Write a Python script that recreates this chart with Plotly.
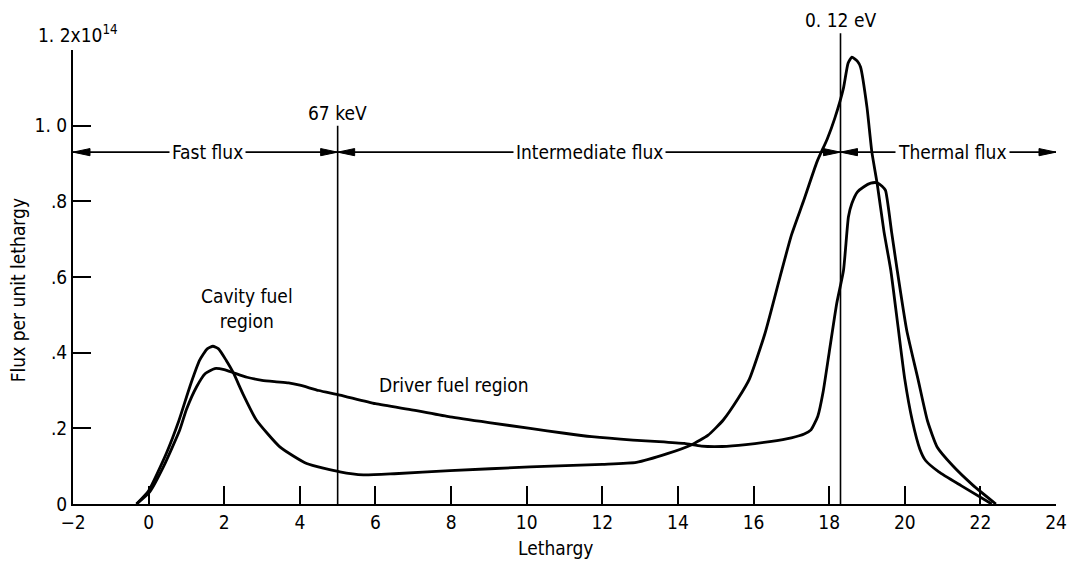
import plotly.graph_objects as go

# Flux per unit lethargy (units of 1e14) versus lethargy for the two fuel regions
cavity_u = [-0.32, 0.0, 0.47, 0.8, 1.09, 1.35, 1.55, 1.70, 1.85, 2.05, 2.24, 2.5, 2.85,
            3.47, 4.18, 5.06, 5.68, 6.5, 7.97, 10.09, 12.0, 12.9, 13.72, 14.35, 14.8,
            15.2, 15.6, 15.89, 16.3, 16.7, 17.0, 17.32, 17.68, 17.95, 18.15, 18.38,
            18.5, 18.6, 18.75, 18.83, 19.0, 19.13, 19.27, 19.45, 19.63, 19.82, 20.0,
            20.2, 20.4, 20.55, 20.9, 21.5, 22.3]
cavity_flux = [0.0, 0.035, 0.134, 0.22, 0.31, 0.38, 0.41, 0.417, 0.41, 0.38, 0.347, 0.29,
               0.222, 0.151, 0.107, 0.085, 0.077, 0.08, 0.088, 0.098, 0.105, 0.11, 0.133,
               0.156, 0.182, 0.222, 0.28, 0.33, 0.45, 0.6, 0.71, 0.80, 0.905, 0.965, 1.02,
               1.10, 1.165, 1.181, 1.17, 1.155, 1.049, 0.93, 0.847, 0.72, 0.618, 0.47,
               0.33, 0.22, 0.145, 0.115, 0.085, 0.048, 0.0]

driver_u = [-0.32, 0.03, 0.4, 0.82, 1.0, 1.27, 1.5, 1.75, 2.0, 2.24, 2.6, 3.0, 3.38, 3.7,
            4.0, 4.5, 5.06, 6.0, 7.0, 7.97, 9.0, 10.09, 11.0, 11.72, 12.81, 13.5, 14.17,
            14.62, 15.17, 15.8, 16.43, 17.0, 17.34, 17.52, 17.7, 17.84, 18.0, 18.2,
            18.38, 18.51, 18.6, 18.75, 18.91, 19.1, 19.27, 19.4, 19.49, 19.65, 19.8,
            20.05, 20.35, 20.6, 20.86, 21.27, 21.8, 22.41]
driver_flux = [0.0, 0.032, 0.10, 0.195, 0.25, 0.31, 0.345, 0.358, 0.355, 0.347, 0.335,
               0.327, 0.323, 0.32, 0.314, 0.30, 0.288, 0.265, 0.248, 0.23, 0.215, 0.2,
               0.187, 0.178, 0.169, 0.165, 0.16, 0.153, 0.152, 0.157, 0.165, 0.175,
               0.185, 0.196, 0.232, 0.296, 0.40, 0.53, 0.618, 0.759, 0.794, 0.825,
               0.838, 0.848, 0.849, 0.84, 0.829, 0.72, 0.618, 0.46, 0.33, 0.22, 0.15,
               0.101, 0.05, 0.0]

x_ticks = list(range(-2, 25, 2))
y_ticks = [0, 0.2, 0.4, 0.6, 0.8, 1.0, 1.2]
y_tick_text = ["0", ".2", ".4", ".6", ".8", "1. 0", ""]

# Energy boundaries (lethargy) separating the flux groups
boundary_67kev = 5.0
boundary_012ev = 18.3

# Flux group bands: label, start, end, label position
bands = [("Fast flux", -2.0, 5.0, 1.55),
         ("Intermediate flux", 5.0, 18.3, 11.67),
         ("Thermal flux", 18.3, 24.0, 21.26)]
band_level = 0.93

FONT = "Liberation Sans Narrow, DejaVu Sans Condensed, Arial Narrow, sans-serif"
Y_MAX = 1.2
TOP_67KEV = 1.0
TOP_012EV = 1.244

fig = go.Figure()
for u, f in [(cavity_u, cavity_flux), (driver_u, driver_flux)]:
    fig.add_trace(go.Scatter(x=u, y=f, mode="lines",
                             line=dict(color="black", width=2.8, shape="spline", smoothing=0.5),
                             hoverinfo="skip"))

shapes = []
# boundary markers
shapes.append(dict(type="line", xref="x", yref="y", x0=boundary_67kev, x1=boundary_67kev,
                   y0=0, y1=TOP_67KEV, line=dict(color="black", width=1.6)))
shapes.append(dict(type="line", xref="x", yref="paper", x0=boundary_012ev, x1=boundary_012ev,
                   y0=0, y1=TOP_012EV / Y_MAX, line=dict(color="black", width=1.6)))
# band arrow line
shapes.append(dict(type="line", xref="x", yref="y", x0=bands[0][1], x1=bands[-1][2],
                   y0=band_level, y1=band_level, line=dict(color="black", width=1.6)))


def arrow_head(tip, direction, length=0.45, half=0.0095):
    base = tip - direction * length
    return dict(type="path", xref="x", yref="y",
                path=f"M {tip},{band_level} L {base},{band_level + half} "
                     f"L {base},{band_level - half} Z",
                fillcolor="black", line=dict(color="black", width=1))


for _, start, end, _ in bands:
    shapes.append(arrow_head(start, -1))
    shapes.append(arrow_head(end, 1))

annotations = []
for label, start, end, pos in bands:
    annotations.append(dict(x=pos, y=band_level, xref="x", yref="y", text=label,
                            showarrow=False, bgcolor="white", borderpad=2,
                            font=dict(size=19)))

annotations += [
    dict(x=boundary_67kev, y=TOP_67KEV, xref="x", yref="y", text="67 keV", showarrow=False,
         yanchor="bottom", yshift=0, font=dict(size=19)),
    dict(x=boundary_012ev, y=TOP_012EV / Y_MAX, xref="x", yref="paper", text="0. 12 eV",
         showarrow=False, yanchor="bottom", yshift=0, font=dict(size=19)),
    dict(x=-2, y=Y_MAX, xref="x", yref="y", text="1. 2x10<sup>14</sup>", showarrow=False,
         xanchor="center", xshift=5, yanchor="bottom", yshift=2, font=dict(size=19)),
    dict(x=2.6, y=0.45, xref="x", yref="y", text="Cavity fuel<br>region", showarrow=False,
         yanchor="bottom", font=dict(size=19)),
    dict(x=8.07, y=0.315, xref="x", yref="y", text="Driver fuel region", showarrow=False,
         font=dict(size=19)),
    dict(x=0, y=0.565, xref="paper", yref="y", text="Flux per unit lethargy",
         showarrow=False, textangle=-90, xanchor="center", xshift=-55, font=dict(size=19)),
    dict(x=10.75, y=0, xref="x", yref="paper", text="Lethargy", showarrow=False,
         yanchor="middle", yshift=-44, font=dict(size=19)),
]

fig.update_layout(
    width=1068, height=564,
    margin=dict(l=73, r=12, t=50, b=60, autoexpand=False),
    paper_bgcolor="white", plot_bgcolor="white",
    showlegend=False,
    font=dict(family=FONT, size=19, color="black"),
    shapes=shapes, annotations=annotations,
)
fig.update_xaxes(range=[-2, 24], tickvals=x_ticks, ticks="inside", ticklen=18, tickwidth=2,
                 tickcolor="black", showline=True, linewidth=2, linecolor="black",
                 showgrid=False, zeroline=False, tickfont=dict(size=19), automargin=False)
fig.update_yaxes(range=[0, Y_MAX], tickvals=y_ticks, ticktext=y_tick_text, ticks="inside",
                 ticklen=18, tickwidth=2, tickcolor="black", showline=True, linewidth=2,
                 linecolor="black", showgrid=False, zeroline=False, tickfont=dict(size=19),
                 automargin=False)

fig.write_html("out.html")
